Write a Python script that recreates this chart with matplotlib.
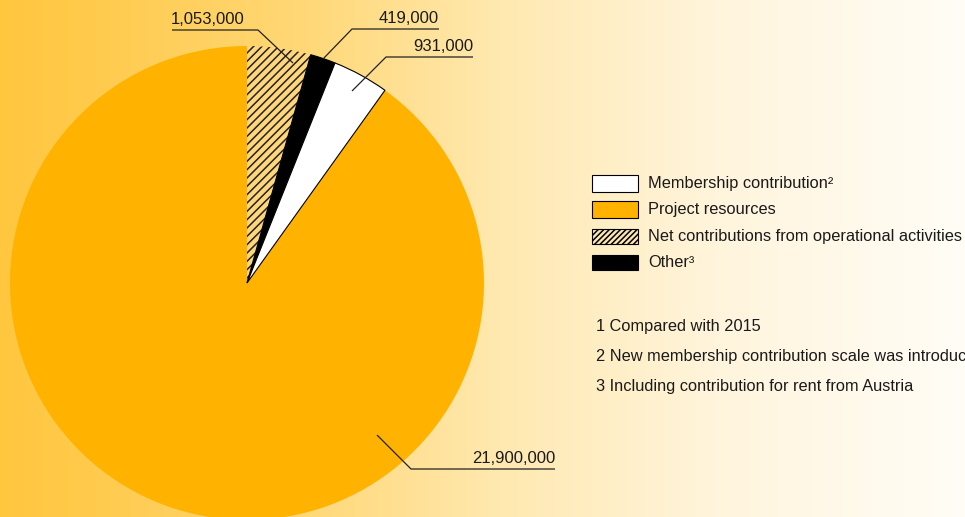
import numpy as np
import matplotlib
matplotlib.use("Agg")
import matplotlib.pyplot as plt
from matplotlib.patches import Rectangle

plt.rcParams['font.family'] = ['Liberation Sans', 'DejaVu Sans']
plt.rcParams['hatch.linewidth'] = 1.1

# Income sources (EUR)
categories = ["Net contributions from operational activities", "Other",
              "Membership contribution", "Project resources"]
values = [1053000, 419000, 931000, 21900000]
value_labels = ["1,053,000", "419,000", "931,000", "21,900,000"]

legend_labels = ["Membership contribution\u00b2", "Project resources",
                 "Net contributions from operational activities", "Other\u00b3"]
footnotes = ["1 Compared with 2015",
             "2 New membership contribution scale was introduced",
             "3 Including contribution for rent from Austria"]

W, H = 965, 517
ORANGE = "#FFB300"
HATCH_FILL = "#FFD67C"
TEXT = "#1a1a1a"

fig = plt.figure(figsize=(W / 100, H / 100), dpi=100)
ax = fig.add_axes([0, 0, 1, 1])
ax.set_axis_off()


def P(x, y):
    """Pixel coordinates (origin top-left) to data coordinates."""
    return x, H - y


# horizontal gradient background (orange on the left fading to cream)
stop_x = [0, 100, 310, 500, 720, 965]
stop_rgb = np.array([[255, 198, 62], [255, 203, 78], [255, 216, 120],
                     [255, 233, 176], [255, 245, 221], [255, 253, 246]]) / 255
xs = np.linspace(0, W, 965)
grad = np.stack([np.interp(xs, stop_x, stop_rgb[:, c]) for c in range(3)], axis=-1)[None, :, :]
ax.imshow(grad, extent=(0, W, 0, H), aspect='auto', zorder=0)

# pie
wedges, _ = ax.pie(values, startangle=90, counterclock=False,
                   center=P(247, 283), radius=237, frame=True)
styles = [
    dict(facecolor=HATCH_FILL, edgecolor="#222222", linewidth=0, hatch="////"),
    dict(facecolor="black", edgecolor="black", linewidth=0.8),
    dict(facecolor="white", edgecolor="black", linewidth=0.8),
    dict(facecolor=ORANGE, edgecolor=ORANGE, linewidth=0),
]
for w, st in zip(wedges, styles):
    w.set(**st)
    w.set_zorder(2)
wedges[3].set_zorder(1)

ax.set_xlim(0, W)
ax.set_ylim(0, H)
ax.set_aspect('auto')
ax.set_axis_off()

# value labels with leader lines: (text anchor, polyline)
leaders = [
    ((245, 27), [(293, 63), (258, 30), (172, 30)]),
    ((439, 26), [(323, 59), (352, 29), (439, 29)]),
    ((473, 54), [(352, 91), (386, 57), (473, 57)]),
    ((555, 466), [(377, 435), (411, 469), (555, 469)]),
]
for lab, (anchor, pts) in zip(value_labels, leaders):
    lx, ly = zip(*[P(*p) for p in pts])
    ax.plot(lx, ly, color="#222222", lw=0.9, zorder=5, solid_capstyle='butt')
    ax.text(*P(*anchor), lab, ha="right", va="bottom", fontsize=12,
            color=TEXT, zorder=6)

# legend
legend_styles = [
    dict(facecolor="white", edgecolor="black", hatch=None),
    dict(facecolor=ORANGE, edgecolor="black", hatch=None),
    dict(facecolor="#FDE7B0", edgecolor="black", hatch="//////"),
    dict(facecolor="black", edgecolor="black", hatch=None),
]
legend_rows = [(175, 17), (201, 17), (229, 15), (255, 15)]
for lab, st, (top, h) in zip(legend_labels, legend_styles, legend_rows):
    x0, y0 = P(592, top + h)
    ax.add_patch(Rectangle((x0, y0), 46, h, linewidth=0.8, zorder=5, **st))
    ax.text(*P(648, top + h / 2), lab, ha="left", va="center",
            fontsize=11.75, color=TEXT, zorder=6)

# footnotes
for i, note in enumerate(footnotes):
    ax.text(*P(596, 327 + 29.5 * i), note, ha="left", va="center",
            fontsize=11.75, color=TEXT, zorder=6)

fig.savefig("out.png", dpi=100)
